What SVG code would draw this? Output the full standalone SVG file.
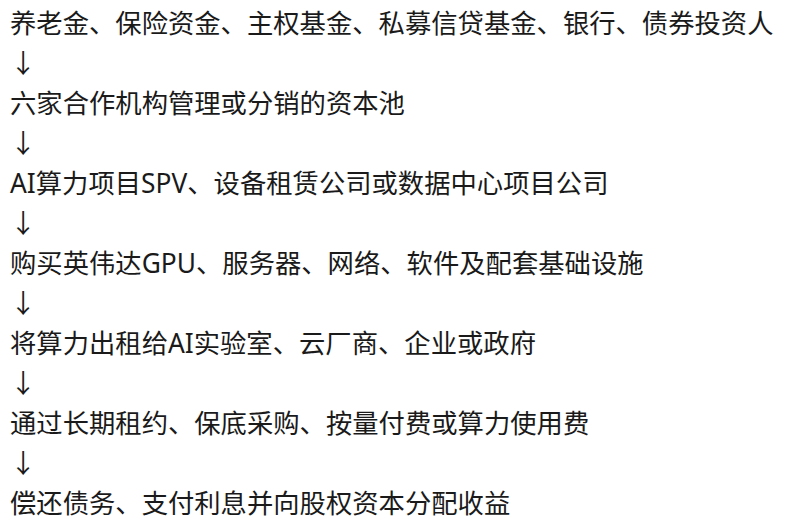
<svg xmlns="http://www.w3.org/2000/svg" width="801" height="521" viewBox="0 0 801 521">
<style>
.t{font-family:"Noto Sans","Noto Sans CJK SC",sans-serif;font-size:26.33px;fill:#1a1a1a;}
.a{font-family:"Noto Sans CJK SC",sans-serif;font-size:26.33px;fill:#1a1a1a;}
</style>
<rect width="801" height="521" fill="#ffffff"/>
<g id="n1"><text class="t" x="10" y="32.5">养老金、保险资金、主权基金、私募信贷基金、银行、债券投资人</text></g>
<g id="n2"><text class="t" x="10" y="112.5">六家合作机构管理或分销的资本池</text></g>
<g id="n3"><text class="t" x="10" y="192.5">AI算力项目SPV、设备租赁公司或数据中心项目公司</text></g>
<g id="n4"><text class="t" x="10" y="272.5">购买英伟达GPU、服务器、网络、软件及配套基础设施</text></g>
<g id="n5"><text class="t" x="10" y="352.5">将算力出租给AI实验室、云厂商、企业或政府</text></g>
<g id="n6"><text class="t" x="10" y="432.5">通过长期租约、保底采购、按量付费或算力使用费</text></g>
<g id="n7"><text class="t" x="10" y="512.5">偿还债务、支付利息并向股权资本分配收益</text></g>
<g id="connectors">
<text class="a" x="10" y="72.5">↓</text>
<text class="a" x="10" y="152.5">↓</text>
<text class="a" x="10" y="232.5">↓</text>
<text class="a" x="10" y="312.5">↓</text>
<text class="a" x="10" y="392.5">↓</text>
<text class="a" x="10" y="472.5">↓</text>
</g>
</svg>
